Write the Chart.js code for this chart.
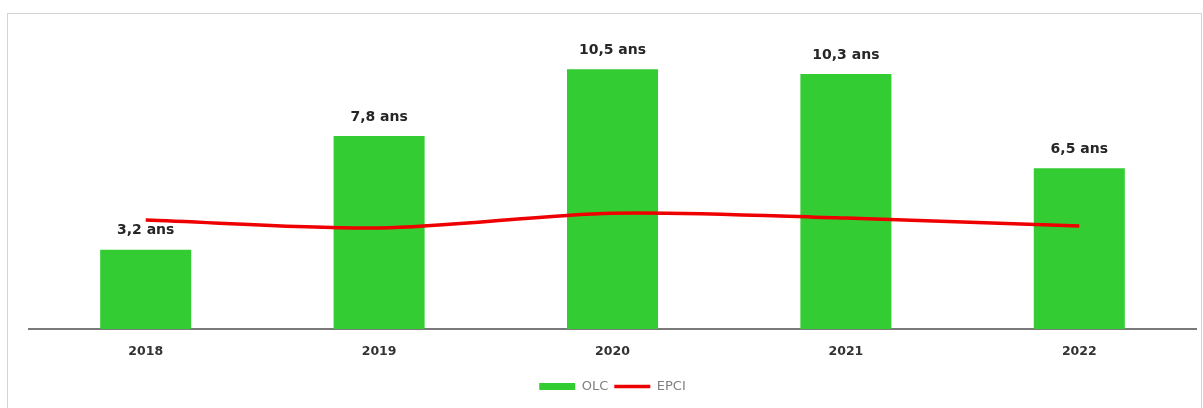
<!DOCTYPE html>
<html>
<head>
<meta charset="utf-8">
<script src="https://cdn.jsdelivr.net/npm/chart.js@4/dist/chart.umd.min.js"></script>
<style>
  html, body { margin: 0; padding: 0; background: #ffffff; }
  #wrap { position: relative; width: 1203px; height: 408px; overflow: hidden; }
  #frame { position: absolute; left: 7px; top: 13px; width: 1195px; height: 420px; border: 1px solid #d4d4d4; box-sizing: border-box; }
  canvas { position: absolute; left: 0; top: 0; }
</style>
</head>
<body>
<div id="wrap">
  <div id="frame"></div>
  <canvas id="c" width="1203" height="408"></canvas>
</div>
<script>
const categories = ["2018", "2019", "2020", "2021", "2022"];
const olcValues = [3.2, 7.8, 10.5, 10.3, 6.5];
const epciValues = [4.40, 4.08, 4.68, 4.48, 4.16];
const seriesNames = ["OLC", "EPCI"];

const barLabelPlugin = {
  id: 'barLabels',
  afterDatasetsDraw(chart) {
    const ctx = chart.ctx;
    const meta = chart.getDatasetMeta(1);
    ctx.save();
    ctx.font = 'bold 14px "DejaVu Sans"';
    ctx.fillStyle = '#262626';
    ctx.textAlign = 'center';
    ctx.textBaseline = 'middle';
    meta.data.forEach((bar, i) => {
      const txt = olcValues[i].toFixed(1).replace('.', ',') + ' ans';
      ctx.fillText(txt, bar.x, bar.y - 19);
    });
    ctx.restore();
  }
};

new Chart(document.getElementById('c'), {
  data: {
    labels: categories,
    datasets: [
      {
        type: 'line',
        label: seriesNames[1],
        data: epciValues,
        borderColor: '#ee0000',
        backgroundColor: '#ee0000',
        borderWidth: 3.5,
        pointRadius: 0,
        tension: 0.3,
        order: 0
      },
      {
        type: 'bar',
        label: seriesNames[0],
        data: olcValues,
        backgroundColor: '#33cc33',
        borderWidth: 0,
        barPercentage: 0.39,
        categoryPercentage: 1.0,
        order: 1
      }
    ]
  },
  options: {
    responsive: false,
    animation: false,
    devicePixelRatio: 1,
    layout: { padding: { left: 29, right: 7, top: 32, bottom: 5 } },
    plugins: {
      tooltip: { enabled: false },
      legend: {
        position: 'bottom',
        labels: {
          font: { family: '"DejaVu Sans"', size: 13 },
          color: '#808080',
          usePointStyle: true,
          pointStyleWidth: 36,
          boxWidth: 36,
          padding: 6,
          generateLabels(chart) {
            return [
              { text: seriesNames[0], pointStyle: 'line', strokeStyle: '#33cc33', fillStyle: '#33cc33', lineWidth: 7, datasetIndex: 1, fontColor: '#808080' },
              { text: seriesNames[1], pointStyle: 'line', strokeStyle: '#ee0000', fillStyle: '#ee0000', lineWidth: 3.5, datasetIndex: 0, fontColor: '#808080' }
            ];
          }
        }
      }
    },
    scales: {
      x: {
        offset: true,
        grid: { display: false },
        border: { display: true, color: '#7a7a7a', width: 2 },
        ticks: { font: { family: '"DejaVu Sans"', size: 12.5, weight: 'bold' }, color: '#333333', padding: 7 },
        afterFit(scale) { scale.height += 8; }
      },
      y: {
        display: false,
        min: 0,
        max: 12
      }
    }
  },
  plugins: [barLabelPlugin]
});
</script>
</body>
</html>
